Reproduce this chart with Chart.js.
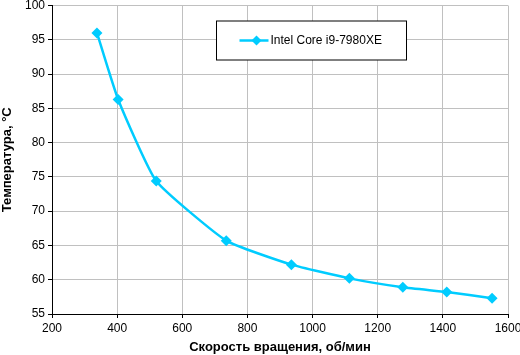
<!DOCTYPE html>
<html><head><meta charset="utf-8">
<script src="https://cdn.jsdelivr.net/npm/chart.js@4/dist/chart.umd.min.js"></script>
<style>html,body{margin:0;padding:0;background:#fff}#wrap{width:520px;height:355px}</style>
</head><body><div id="wrap"><canvas id="c" width="520" height="355"></canvas></div>
<script>
const seriesName = "Intel Core i9-7980XE";
const rpm = [338, 403, 520, 735, 935, 1113, 1277, 1412, 1551];
const temperature = [96.0, 86.3, 74.4, 65.7, 62.2, 60.2, 58.9, 58.2, 57.3];
const xTicks = [200, 400, 600, 800, 1000, 1200, 1400, 1600];
const yTicks = [55, 60, 65, 70, 75, 80, 85, 90, 95, 100];
const xTitle = "Скорость вращения, об/мин";
const yTitle = "Температура, °C";
const lineColor = "#00CCFF";
const FONT = '"Liberation Sans", Arial, sans-serif';

const legendBox = {
  id: 'legendBox',
  afterDraw(chart) {
    const ctx = chart.ctx;
    const x0 = Math.round(chart.scales.x.getPixelForValue(700)) + 1.5;
    const cy = Math.round(chart.scales.y.getPixelForValue(95)) + 0.5;
    const y0 = cy - 19.5;
    const w = 190, h = 39;
    ctx.save();
    ctx.fillStyle = '#fff';
    ctx.fillRect(x0, y0, w, h);
    ctx.strokeStyle = '#000'; ctx.lineWidth = 1;
    ctx.strokeRect(x0, y0, w, h);
    ctx.strokeStyle = lineColor; ctx.lineWidth = 2.5;
    ctx.beginPath(); ctx.moveTo(x0 + 23, cy); ctx.lineTo(x0 + 52, cy); ctx.stroke();
    ctx.fillStyle = lineColor;
    ctx.beginPath(); const cx = x0 + 40, r = 5;
    ctx.moveTo(cx, cy - r); ctx.lineTo(cx + r, cy); ctx.lineTo(cx, cy + r); ctx.lineTo(cx - r, cy); ctx.closePath(); ctx.fill();
    ctx.fillStyle = '#000'; ctx.font = '12px ' + FONT;
    ctx.textBaseline = 'middle'; ctx.textAlign = 'left';
    ctx.fillText(chart.data.datasets[0].label, x0 + 54, cy);
    ctx.restore();
  }
};

new Chart(document.getElementById('c'), {
  type: 'line',
  data: {
    datasets: [{
      label: seriesName,
      data: rpm.map((x, i) => ({x, y: temperature[i]})),
      borderColor: lineColor, backgroundColor: lineColor,
      borderWidth: 2.5, tension: 0.15, cubicInterpolationMode: 'default',
      pointStyle: 'rectRot', pointRadius: 5.5, pointBorderWidth: 0,
      pointBackgroundColor: lineColor
    }]
  },
  options: {
    responsive: false, animation: false,
    layout: { padding: { top: 5, right: 12, left: 0, bottom: 0 } },
    plugins: { legend: { display: false }, tooltip: { enabled: false } },
    scales: {
      x: {
        type: 'linear', min: 200, max: 1600,
        afterBuildTicks: s => { s.ticks = xTicks.map(v => ({value: v})); },
        afterFit: s => { s.height = 41; s.paddingLeft = 0; s.paddingRight = 0; },
        grid: { color: '#C0C0C0', lineWidth: 1, tickColor: '#000', tickLength: 4, drawTicks: true },
        border: { color: '#000', width: 1 },
        ticks: { color: '#000', font: { family: FONT, size: 12 }, padding: 3, maxRotation: 0, callback: v => String(v) },
        title: { display: true, text: xTitle, color: '#000', font: { family: FONT, size: 13, weight: 'bold' }, padding: { top: 1, bottom: 0 } }
      },
      y: {
        type: 'linear', min: 55, max: 100,
        afterBuildTicks: s => { s.ticks = yTicks.map(v => ({value: v})); },
        afterFit: s => { s.width = 52; s.paddingTop = 0; s.paddingBottom = 0; },
        grid: { color: '#C0C0C0', lineWidth: 1, tickColor: '#000', tickLength: 4, drawTicks: true },
        border: { color: '#000', width: 1 },
        ticks: { color: '#000', font: { family: FONT, size: 12 }, padding: 3, callback: v => String(v) },
        title: { display: true, text: yTitle, color: '#000', font: { family: FONT, size: 13, weight: 'bold' }, padding: { top: 0, bottom: 0 } }
      }
    }
  },
  plugins: [legendBox]
});
</script></body></html>
